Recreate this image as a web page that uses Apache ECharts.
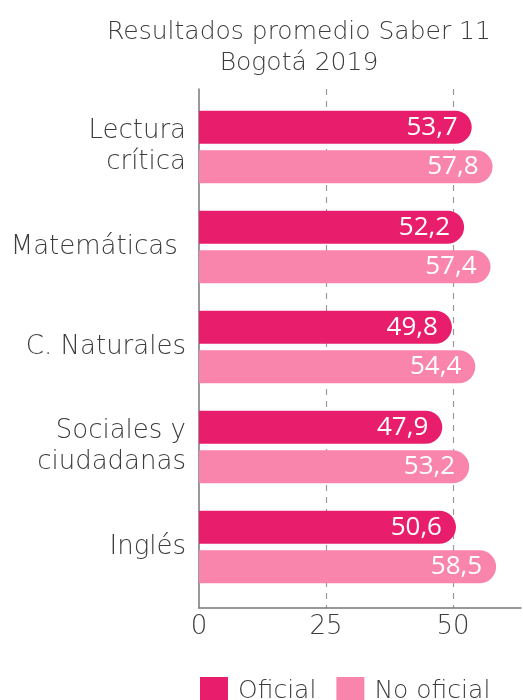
<!DOCTYPE html>
<html><head><meta charset="utf-8">
<script src="https://cdn.jsdelivr.net/npm/echarts@6/dist/echarts.min.js"></script>
<style>html,body{margin:0;padding:0;background:#fff}#c{width:523px;height:700px}</style>
</head><body><div id="c"></div>
<script>
var categories = ['Lectura\ncrítica', 'Matemáticas ', 'C. Naturales', 'Sociales y\nciudadanas', 'Inglés'];
var oficial = [53.7, 52.2, 49.8, 47.9, 50.6];
var noOficial = [57.8, 57.4, 54.4, 53.2, 58.5];
var xTicks = [0, 25, 50];
var seriesNames = ['Oficial', 'No oficial'];

var FONT = '"DejaVu Sans", "Open Sans", sans-serif';
var LFONT = '"Open Sans", "DejaVu Sans", sans-serif';
var chart = echarts.init(document.getElementById('c'));
var fmt = function (p) { return String(p.value.toFixed(1)).replace('.', ','); };
chart.setOption({
  animation: false,
  title: {
    text: 'Resultados promedio Saber 11\nBogotá 2019',
    left: 294, top: 12, textAlign: 'center',
    textStyle: { fontFamily: FONT, fontWeight: 200, fontSize: 25, color: '#3c3c3c', lineHeight: 31 }
  },
  legend: {
    data: seriesNames, left: 195, top: 672, itemWidth: 28, itemHeight: 28, itemGap: 20,
    icon: 'rect', selectedMode: false,
    textStyle: { fontFamily: FONT, fontWeight: 200, fontSize: 25, color: '#3c3c3c', padding: [0, 0, 0, 5] }
  },
  grid: [
    { left: 199, right: 2, top: 89, bottom: 92 },
    { left: 199, right: 2, top: 97, bottom: 103 }
  ],
  xAxis: [
    { gridIndex: 0, type: 'value', min: 0, max: 63.4, interval: 25,
      axisLine: { show: true, lineStyle: { color: '#777', width: 1.5 } },
      axisTick: { show: false },
      axisLabel: { showMaxLabel: false, margin: 6, fontFamily: FONT, fontWeight: 200, fontSize: 26, color: '#3c3c3c',
        formatter: function (v) { return xTicks.indexOf(v) >= 0 ? String(v) : ''; } },
      splitLine: { show: true, showMinLine: false, showMaxLine: false, lineStyle: { color: '#999', type: [6, 6], width: 1.2 } }
    },
    { gridIndex: 1, type: 'value', min: 0, max: 63.4, show: false }
  ],
  yAxis: [
    { gridIndex: 0, type: 'category', data: categories, inverse: true,
      axisLine: { show: true, lineStyle: { color: '#777', width: 1.5 } },
      axisTick: { show: false }, axisLabel: { show: false }, splitLine: { show: false } },
    { gridIndex: 1, type: 'category', data: categories, inverse: true,
      axisLine: { show: false }, axisTick: { show: false }, splitLine: { show: false },
      axisLabel: { margin: 13, fontFamily: FONT, fontWeight: 200, fontSize: 26, color: '#3c3c3c', lineHeight: 31, align: 'right' } }
  ],
  series: [
    { name: seriesNames[0], type: 'bar', xAxisIndex: 1, yAxisIndex: 1, data: oficial,
      barWidth: 33, barGap: '20%',
      itemStyle: { color: '#E81E6C', borderRadius: [0, 17, 17, 0] },
      label: { show: true, position: 'insideRight', distance: 14, formatter: fmt,
        fontFamily: LFONT, fontWeight: 400, fontSize: 26, color: '#fff' } },
    { name: seriesNames[1], type: 'bar', xAxisIndex: 1, yAxisIndex: 1, data: noOficial,
      barWidth: 33, barGap: '20%',
      itemStyle: { color: '#F984AC', borderRadius: [0, 17, 17, 0] },
      label: { show: true, position: 'insideRight', distance: 14, formatter: fmt,
        fontFamily: LFONT, fontWeight: 400, fontSize: 26, color: '#fff' } }
  ]
});
</script></body></html>
